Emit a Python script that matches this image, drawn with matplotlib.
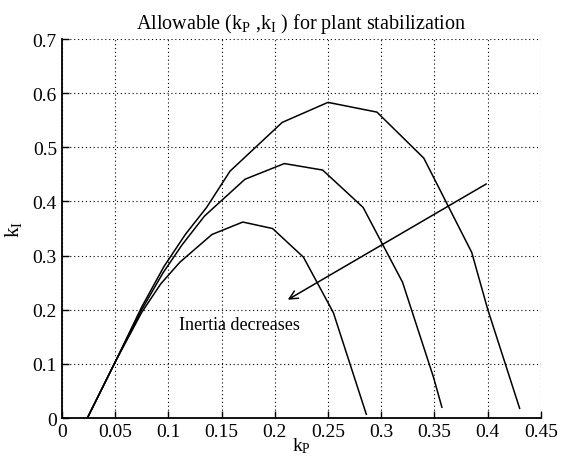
import matplotlib
matplotlib.use('Agg')
import matplotlib.pyplot as plt

# curves (outer = largest inertia)
kp_outer = [0.024, 0.05, 0.075, 0.096, 0.116, 0.136, 0.158, 0.207, 0.250, 0.296, 0.340, 0.385, 0.400, 0.430]
ki_outer = [0.0, 0.103, 0.205, 0.280, 0.339, 0.389, 0.456, 0.546, 0.583, 0.565, 0.480, 0.306, 0.201, 0.018]

kp_middle = [0.024, 0.05, 0.075, 0.095, 0.113, 0.134, 0.172, 0.209, 0.245, 0.283, 0.320, 0.349, 0.357]
ki_middle = [0.0, 0.103, 0.200, 0.268, 0.320, 0.373, 0.441, 0.470, 0.458, 0.389, 0.251, 0.076, 0.020]

kp_inner = [0.024, 0.05, 0.075, 0.093, 0.111, 0.141, 0.170, 0.198, 0.227, 0.255, 0.286]
ki_inner = [0.0, 0.103, 0.195, 0.248, 0.288, 0.339, 0.362, 0.350, 0.297, 0.195, 0.007]

xticks = [0, 0.05, 0.1, 0.15, 0.2, 0.25, 0.3, 0.35, 0.4, 0.45]
xticklabels = ['0', '0.05', '0.1', '0.15', '0.2', '0.25', '0.3', '0.35', '0.4', '0.45']
yticks = [0, 0.1, 0.2, 0.3, 0.4, 0.5, 0.6, 0.7]
yticklabels = ['0', '0.1', '0.2', '0.3', '0.4', '0.5', '0.6', '0.7']

plt.rcParams['font.family'] = ['Liberation Serif', 'DejaVu Serif']
plt.rcParams['mathtext.fontset'] = 'custom'
plt.rcParams['mathtext.rm'] = 'Liberation Serif'
plt.rcParams['mathtext.it'] = 'Liberation Serif:italic'

fig = plt.figure(figsize=(5.67, 4.6), dpi=100)
ax = fig.add_axes([0.109, 0.089, 0.845, 0.824])

for kp, ki in [(kp_outer, ki_outer), (kp_middle, ki_middle), (kp_inner, ki_inner)]:
    ax.plot(kp, ki, color='black', lw=1.1)

ax.annotate('', xy=(0.210, 0.216), xytext=(0.401, 0.435),
            arrowprops=dict(arrowstyle='->', color='black', lw=1.1,
                            mutation_scale=15))
ax.text(0.110, 0.172, 'Inertia decreases', fontsize=13, va='center', ha='left')

ax.set_xlim(0, 0.45)
ax.set_ylim(0, 0.7)
ax.set_xticks(xticks)
ax.set_xticklabels(xticklabels)
ax.set_yticks(yticks)
ax.set_yticklabels(yticklabels)
ax.tick_params(direction='in', length=5, labelsize=14, width=1)
ax.grid(True, color='black', linestyle=(0, (1, 2.5)), lw=0.8)

ax.spines['top'].set_visible(False)
ax.spines['right'].set_visible(False)
ax.spines['left'].set_linewidth(1.3)
ax.spines['bottom'].set_linewidth(1.3)

ax.set_title(r'Allowable (k$_{\mathrm{P}}$ ,k$_{\mathrm{I}}$ ) for plant stabilization',
             fontsize=14.5, pad=8)
ax.set_xlabel(r'k$_{\mathrm{P}}$', fontsize=14, labelpad=-3)
ax.set_ylabel(r'k$_{\mathrm{I}}$', fontsize=15, labelpad=6)

fig.savefig('out.png', dpi=100)
